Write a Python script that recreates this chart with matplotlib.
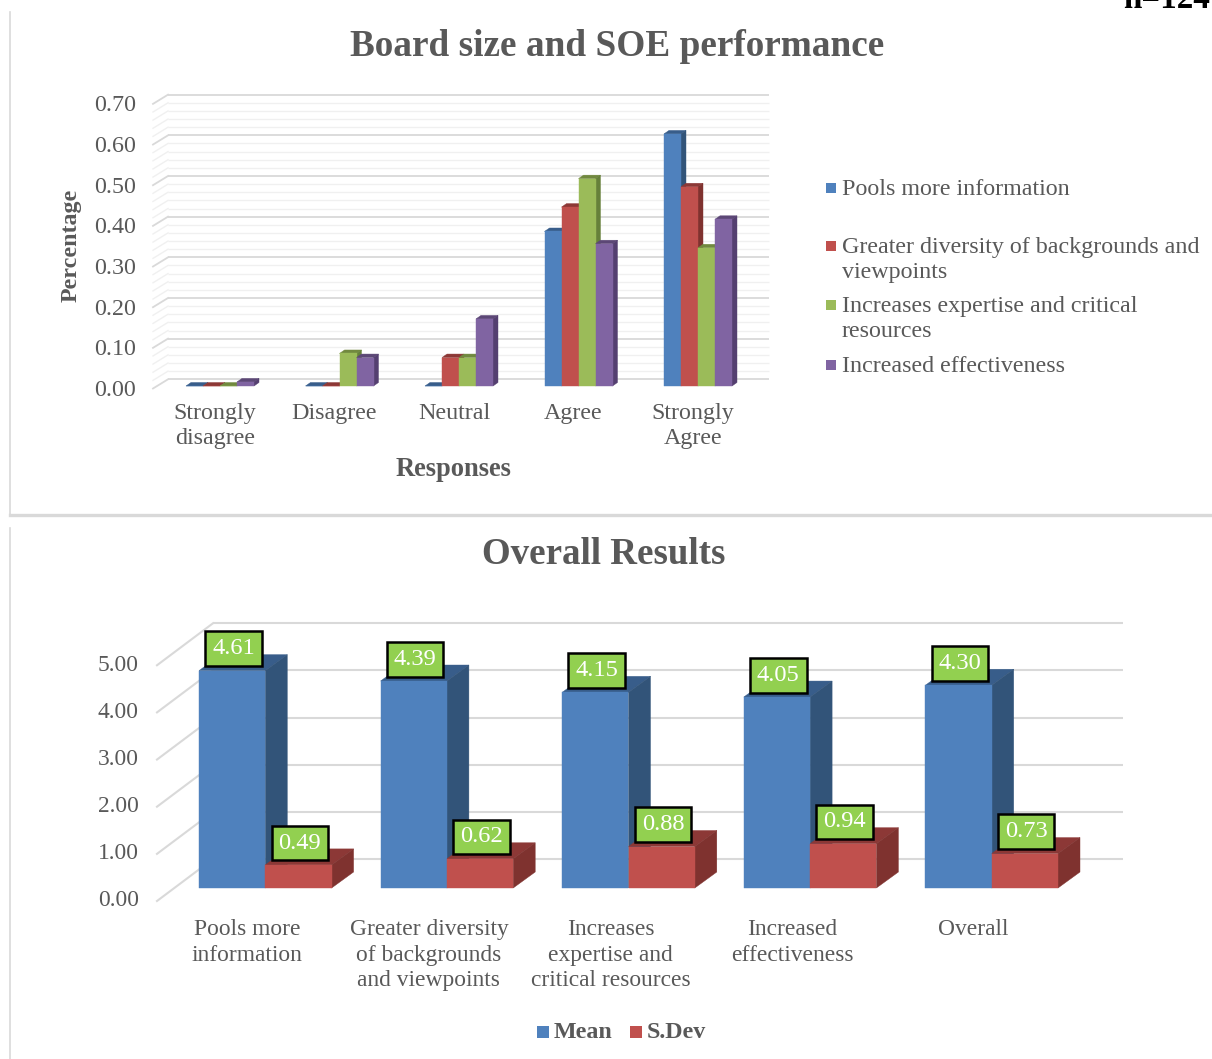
"""Two 3D-style column charts on board size and SOE performance survey responses."""
import matplotlib

matplotlib.use("Agg")
import matplotlib.pyplot as plt
from matplotlib.lines import Line2D
from matplotlib.patches import Rectangle
from matplotlib.transforms import ScaledTranslation

W, H = 1212, 1059

responses = ["Strongly\ndisagree", "Disagree", "Neutral", "Agree", "Strongly\nAgree"]
pools_info = [0.00, 0.00, 0.00, 0.38, 0.62]
diversity = [0.00, 0.00, 0.07, 0.44, 0.49]
expertise = [0.00, 0.08, 0.07, 0.51, 0.34]
effectiveness = [0.01, 0.07, 0.165, 0.35, 0.41]
top_series_names = [
    "Pools more information",
    "Greater diversity of backgrounds and\nviewpoints",
    "Increases expertise and critical\nresources",
    "Increased effectiveness",
]
pct_ticks = [0.0, 0.1, 0.2, 0.3, 0.4, 0.5, 0.6, 0.7]

overall_cats = [
    "Pools more\ninformation",
    "Greater diversity\nof backgrounds\nand viewpoints",
    "Increases\nexpertise and\ncritical resources",
    "Increased\neffectiveness",
    "Overall",
]
means = [4.61, 4.39, 4.15, 4.05, 4.30]
sdevs = [0.49, 0.62, 0.88, 0.94, 0.73]
score_ticks = [0, 1, 2, 3, 4, 5]

BLUE = ("#4F81BD", "#385D8A", "#325479")
RED = ("#C0504D", "#8C3836", "#7F322F")
GREEN = ("#9BBB59", "#71893F", "#66803A")
PURPLE = ("#8064A2", "#5C4776", "#543F70")
INK = "#595959"

plt.rcParams["font.family"] = ["Liberation Serif", "DejaVu Serif"]


def fx(px):
    return px / W


def fy(py):
    return 1 - py / H


def px_font(px):
    return px * 72 / 100


def make_axes(fig, left, right, top, zero_y, x0_px, x_unit, y_unit):
    # axes whose data units map x0_px / zero_y to category 0 / value 0
    ax = fig.add_axes([fx(left), fy(zero_y), (right - left) / W, (zero_y - top) / H])
    ax.set_xlim((left - x0_px) / x_unit, (right - x0_px) / x_unit)
    ax.set_ylim(0, (zero_y - top) / y_unit)
    ax.patch.set_alpha(0)
    for spine in ax.spines.values():
        spine.set_visible(False)
    return ax


def draw_column(ax, x, width, value, dx, dy, colors, z):
    front, top, side = colors
    ax.fill(
        [x, x + width, x + width + dx, x + dx],
        [value, value, value + dy, value + dy],
        color=top, lw=0.3, zorder=z, clip_on=False,
    )
    ax.fill(
        [x + width, x + width + dx, x + width + dx, x + width],
        [0, dy, value + dy, value],
        color=side, lw=0.3, zorder=z, clip_on=False,
    )
    ax.bar(x, value, width, align="edge", color=front, edgecolor=front, lw=0.3, zorder=z + 0.5, clip_on=False)


def draw_walls(ax, levels, wall_x, back_y, front_x, front_y, right, color, lw, z=1):
    for level in levels:
        ax.plot([wall_x, right], [level + back_y] * 2, color=color, lw=lw, zorder=z, clip_on=False, solid_capstyle="butt")
        ax.plot([front_x, wall_x], [level + front_y, level + back_y], color=color, lw=lw, zorder=z, clip_on=False)


def legend_entry(fig, x, y, size, color, label, text_x, **kwargs):
    fig.add_artist(Rectangle((fx(x), fy(y + size / 2)), size / W, size / H, transform=fig.transFigure, color=color, lw=0))
    fig.text(fx(text_x), fy(y), label, va="center", color=INK, **kwargs)


fig = plt.figure(figsize=(W / 100, H / 100), dpi=100, facecolor="white")

# panel frames
frame = "#D9D9D9"
for xs, ys, lw in [
    ((10, 10), (12, 515), 1.2),
    ((10, 1212), (515, 515), 2.4),
    ((10, 10), (528, 1059), 1.2),
]:
    fig.add_artist(Line2D([fx(v) for v in xs], [fy(v) for v in ys], color=frame, lw=lw))

fig.text(fx(1210), fy(8), "n=124", ha="right", va="baseline", color="black", fontsize=px_font(33), fontweight="bold")

# upper chart
y_unit = 406.6
x_unit = 119.5
ax1 = make_axes(fig, 153, 769, 90, 386, 220, x_unit, y_unit)
wall_back = 6.7 / y_unit
wall_front = -2.5 / y_unit
wall_dx = 15 / x_unit
wall_left = (153 - 220) / x_unit
minor_levels = [i * 0.02 for i in range(36) if i % 5]
draw_walls(ax1, minor_levels, wall_left + wall_dx, wall_back, wall_left, wall_front, (769 - 220) / x_unit, "#F0F0F0", 1.0)
draw_walls(ax1, pct_ticks, wall_left + wall_dx, wall_back, wall_left, wall_front, (769 - 220) / x_unit, "#D9D9D9", 1.3)

bar_w = 17 / x_unit
top_series = [pools_info, diversity, expertise, effectiveness]
top_colors = [BLUE, RED, GREEN, PURPLE]
z = 3
for cat in range(len(responses)):
    for s, (vals, colors) in enumerate(zip(top_series, top_colors)):
        x = cat + (s - 2) * bar_w
        draw_column(ax1, x, bar_w, vals[cat], 5 / x_unit, 3.5 / y_unit, colors, z)
        z += 1

ax1.set_yticks(pct_ticks, [f"{v:.2f}" for v in pct_ticks])
ax1.set_xticks([i - 5 / x_unit for i in range(len(responses))], responses)
ax1.tick_params(axis="y", length=0, pad=12, labelsize=px_font(24), labelcolor=INK)
ax1.tick_params(axis="x", length=0, pad=12, labelsize=px_font(24), labelcolor=INK)
nudge_down = ScaledTranslation(0, -2 / 100, fig.dpi_scale_trans)
for label in ax1.get_yticklabels():
    label.set_transform(label.get_transform() + nudge_down)
for label in ax1.get_xticklabels():
    label.set_linespacing(1.24)

fig.text(fx(617), fy(47), "Board size and SOE performance", ha="center", va="center", color=INK, fontsize=px_font(37.2), fontweight="bold")
fig.text(fx(71), fy(245), "Percentage", rotation=90, ha="center", va="center", color=INK, fontsize=px_font(24), fontweight="bold")
fig.text(fx(454), fy(469), "Responses", ha="center", va="center", color=INK, fontsize=px_font(26.5), fontweight="bold")

legend_rows = [188, 246, 305, 365]
for name, row, colors in zip(top_series_names, legend_rows, top_colors):
    fig.add_artist(Rectangle((fx(826), fy(row + 5)), 10 / W, 10 / H, transform=fig.transFigure, color=colors[0], lw=0))
    fig.text(fx(842), fy(row - 9), name, va="top", color=INK, fontsize=px_font(24), linespacing=1.24)

# lower chart
y_unit2 = 47.15
x_unit2 = 181.6
ax2 = make_axes(fig, 157, 1123, 615, 888, 265.3, x_unit2, y_unit2)
left2 = (157 - 265.3) / x_unit2
back_dx = 56 / x_unit2
draw_walls(ax2, score_ticks, left2 + back_dx, 29 / y_unit2, left2, -13 / y_unit2, (1123 - 265.3) / x_unit2, "#D9D9D9", 1.5)

bar_w2 = 66.3 / x_unit2
z = 3
for cat in range(len(overall_cats)):
    draw_column(ax2, cat - bar_w2, bar_w2, means[cat], 22 / x_unit2, 16 / y_unit2, BLUE, z)
    draw_column(ax2, cat, bar_w2, sdevs[cat], 22 / x_unit2, 16 / y_unit2, RED, z + 1)
    z += 2
for cat in range(len(overall_cats)):
    for x, value in ((cat - bar_w2 / 2, means[cat]), (cat + bar_w2 / 2, sdevs[cat])):
        ax2.annotate(
            f"{value:.2f}", (x, value), xytext=(1, 17.5), textcoords="offset points",
            ha="center", va="center_baseline", color="white", fontsize=px_font(24.5), zorder=100,
            bbox=dict(boxstyle="square,pad=0.28", fc="#92D050", ec="black", lw=1.8),
        )

ax2.set_yticks([])
for value in score_ticks:
    ax2.text(left2 - 18 / x_unit2, value - 13 / y_unit2, f"{value:.2f}", ha="right", va="center", color=INK, fontsize=px_font(23.5), clip_on=False)
ax2.set_xticks([i - 18 / x_unit2 for i in range(len(overall_cats))], overall_cats)
ax2.tick_params(axis="x", length=0, pad=22.5, labelsize=px_font(23.5), labelcolor=INK)
for label in ax2.get_xticklabels():
    label.set_linespacing(1.27)

fig.text(fx(604), fy(554), "Overall Results", ha="center", va="center", color=INK, fontsize=px_font(37), fontweight="bold")
legend_entry(fig, 537, 1032, 12, BLUE[0], "Mean", 554, fontsize=px_font(24), fontweight="bold")
legend_entry(fig, 630, 1032, 12, RED[0], "S.Dev", 647, fontsize=px_font(24), fontweight="bold")

fig.savefig("out.png", dpi=100, facecolor="white")
